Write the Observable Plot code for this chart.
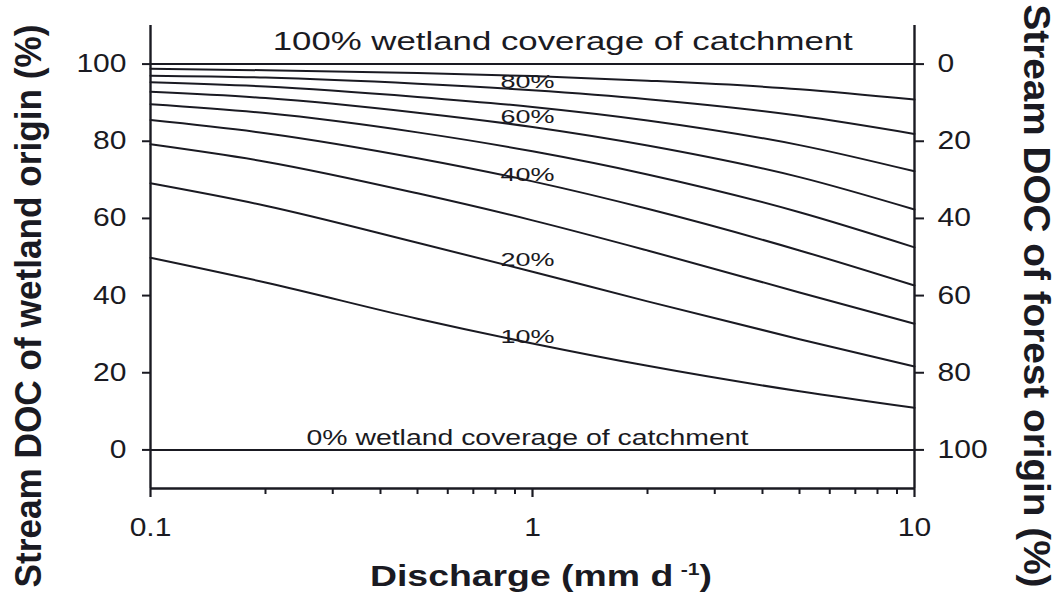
<!DOCTYPE html>
<html>
<head>
<meta charset="utf-8">
<script src="https://cdn.jsdelivr.net/npm/d3@7"></script>
<script src="https://cdn.jsdelivr.net/npm/@observablehq/plot@0.6"></script>
<style>
  html, body { margin: 0; padding: 0; background: #fff; }
  #chart { width: 1058px; height: 595px; }
</style>
</head>
<body>
<div id="chart"></div>
<script>
// ---- data ----
const discharge = [0.1, 0.2, 0.5, 1, 2, 5, 10];           // mm d-1
const coverage = [0, 10, 20, 30, 40, 50, 60, 70, 80, 90, 100]; // % wetland coverage
const share0   = [0, 0, 0, 0, 0, 0, 0];
const share10  = [49.8, 43.4, 34.0, 27.6, 21.8, 15.2, 10.9];
const share20  = [69.1, 63.3, 53.7, 46.2, 38.5, 28.7, 21.6];
const share30  = [79.2, 74.7, 66.5, 59.5, 51.7, 40.8, 32.7];
const share40  = [85.5, 82.1, 75.6, 69.6, 62.5, 51.7, 42.6];
const share50  = [89.6, 87.3, 82.3, 77.4, 71.4, 61.6, 52.5];
const share60  = [92.8, 91.2, 87.4, 83.7, 78.9, 70.7, 62.3];
const share70  = [95.3, 94.2, 91.5, 88.9, 85.4, 79.0, 72.2];
const share80  = [97.0, 96.5, 94.9, 93.2, 90.9, 86.6, 81.9];
const share90  = [98.8, 98.4, 97.7, 96.9, 95.7, 93.5, 90.8];
const share100 = [100, 100, 100, 100, 100, 100, 100];
const shares = [share0, share10, share20, share30, share40, share50, share60, share70, share80, share90, share100];

const xMajorTicks = [0.1, 1, 10];
const xMinorTicks = [0.2, 0.3, 0.4, 0.5, 0.6, 0.7, 0.8, 0.9, 2, 3, 4, 5, 6, 7, 8, 9];
const wetlandTicks = [0, 20, 40, 60, 80, 100];
const forestTicks = [0, 20, 40, 60, 80, 100];

const curveLabelText = ["80%", "60%", "40%", "20%", "10%"];
const curveLabelQ    = [0.97, 0.97, 0.97, 0.97, 0.97];
const curveLabelPct  = [95.3, 86.4, 71.4, 49.3, 29.4];

const topNote = "100% wetland coverage of catchment";
const topNoteQ = 1.2, topNotePct = 105.8;
const bottomNote = "0% wetland coverage of catchment";
const bottomNoteQ = 0.97, bottomNotePct = 3.1;

const leftTitle = "Stream DOC of wetland origin (%)";
const rightTitle = "Stream DOC of forest origin (%)";
const xTitleMain = "Discharge (mm d";
const xTitleSup = "-1";
const xTitleEnd = ")";

// ---- tables built from the arrays ----
const rows = coverage.flatMap((c, i) => discharge.map((q, j) => ({q, share: shares[i][j], cov: c})));
const curveLabels = curveLabelText.map((t, i) => ({t, q: curveLabelQ[i], p: curveLabelPct[i]}));

const ink = "#1a1a22";
const plot = Plot.plot({
  width: 1058,
  height: 595,
  marginLeft: 150,
  marginRight: 144,
  marginTop: 25,
  marginBottom: 107,
  style: {fontFamily: "'Liberation Sans', Arial, Helvetica, sans-serif", color: ink, background: "#fff", overflow: "visible"},
  x: {type: "log", domain: [0.1, 10]},
  y: {domain: [-10, 110]},
  marks: [
    Plot.line(rows, {x: "q", y: "share", z: "cov", stroke: ink, strokeWidth: 2, curve: "monotone-x"}),
    Plot.ruleX([0.1], {stroke: ink, strokeWidth: 2.4}),
    Plot.ruleX([10], {stroke: ink, strokeWidth: 2.4}),
    Plot.ruleY([-10], {stroke: ink, strokeWidth: 2.4}),
    Plot.axisX(xMajorTicks, {tickSize: 9, tickPadding: 21, fontSize: 25, strokeWidth: 2.2, tickFormat: d => String(d), label: null}),
    Plot.axisX(xMinorTicks, {tickSize: 6, strokeWidth: 2, tickFormat: () => "", label: null}),
    Plot.axisY(wetlandTicks, {anchor: "left", tickSize: 8, tickPadding: 16, fontSize: 25, strokeWidth: 2, label: null}),
    Plot.axisY(forestTicks.map(f => 100 - f), {anchor: "right", tickSize: 9, tickPadding: 14, fontSize: 25, strokeWidth: 2, tickFormat: d => String(100 - d), label: null}),
    Plot.text([topNote], {x: () => topNoteQ, y: () => topNotePct, text: d => d, fontSize: 25, fill: ink}),
    Plot.text([bottomNote], {x: () => bottomNoteQ, y: () => bottomNotePct, text: d => d, fontSize: 22, fill: ink}),
    Plot.text(curveLabels, {x: "q", y: "p", text: "t", fontSize: 19, fill: ink})
  ]
});

document.getElementById("chart").append(plot);

function stretchNode(t, factor) {
  const L = t.getComputedTextLength();
  if (L > 0) {
    t.setAttribute("textLength", (L * factor).toFixed(1));
    t.setAttribute("lengthAdjust", "spacingAndGlyphs");
  }
}
function fitNode(t, width) {
  t.setAttribute("textLength", width);
  t.setAttribute("lengthAdjust", "spacingAndGlyphs");
}
plot.querySelectorAll("text").forEach(t => {
  const s = t.textContent;
  const g = t.closest("g");
  const gl = g ? (g.getAttribute("aria-label") || "") : "";
  if (s === topNote) fitNode(t, 580);
  else if (s === bottomNote) fitNode(t, 442);
  else if (curveLabelText.includes(s)) stretchNode(t, 1.42);
  else if (gl.includes("tick label")) stretchNode(t, 1.2);
});

// axis titles
const svg = d3.select(plot);
svg.append("text")
  .attr("transform", "translate(41,306) rotate(-90)")
  .attr("text-anchor", "middle")
  .attr("font-weight", "bold")
  .attr("font-size", 36)
  .attr("fill", ink)
  .attr("textLength", 563)
  .attr("lengthAdjust", "spacingAndGlyphs")
  .text(leftTitle);

svg.append("text")
  .attr("transform", "translate(1024,296) rotate(90)")
  .attr("text-anchor", "middle")
  .attr("font-weight", "bold")
  .attr("font-size", 37)
  .attr("fill", ink)
  .attr("textLength", 583)
  .attr("lengthAdjust", "spacingAndGlyphs")
  .text(rightTitle);

const xt = svg.append("text")
  .attr("x", 541)
  .attr("y", 586)
  .attr("text-anchor", "middle")
  .attr("font-weight", "bold")
  .attr("font-size", 30)
  .attr("fill", ink);
xt.append("tspan").text(xTitleMain);
xt.append("tspan").attr("dx", 6).attr("dy", -11).attr("font-size", 17).text(xTitleSup);
xt.append("tspan").attr("dy", 11).text(xTitleEnd);
xt.attr("textLength", 342).attr("lengthAdjust", "spacingAndGlyphs");
</script>
</body>
</html>
